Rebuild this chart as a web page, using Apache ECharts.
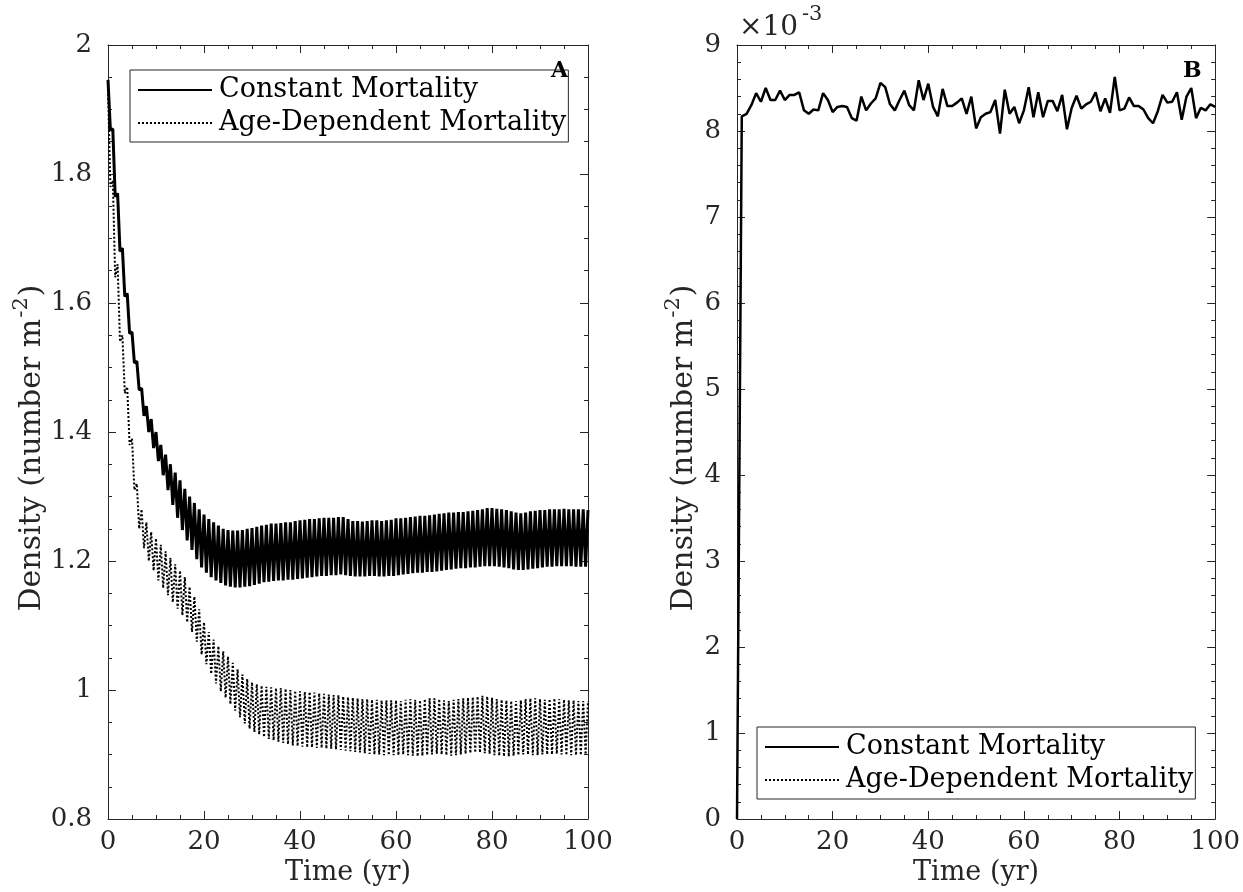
<!DOCTYPE html>
<html>
<head>
<meta charset="utf-8">
<script src="https://cdn.jsdelivr.net/npm/echarts@6/dist/echarts.min.js"></script>
<style>
  html, body { margin: 0; padding: 0; background: #fff; }
  #chart { width: 1243px; height: 892px; }
</style>
</head>
<body>
<div id="chart"></div>
<script>
// Panel A: yearly high (start of year) and low (mid-year) densities, number m^-2
const constPeak = [
  1.946, 1.870, 1.770, 1.685, 1.615, 1.555, 1.510, 1.468, 1.440, 1.420,
  1.400, 1.380, 1.365, 1.350, 1.337, 1.325, 1.312, 1.300, 1.290, 1.280,
  1.272, 1.265, 1.260, 1.255, 1.250, 1.248, 1.247, 1.247, 1.248, 1.250,
  1.251, 1.253, 1.255, 1.256, 1.258, 1.258, 1.259, 1.260, 1.260, 1.262,
  1.263, 1.264, 1.265, 1.265, 1.266, 1.267, 1.267, 1.267, 1.268, 1.268,
  1.265, 1.262, 1.262, 1.261, 1.262, 1.263, 1.263, 1.262, 1.263, 1.264,
  1.266, 1.266, 1.267, 1.268, 1.269, 1.270, 1.270, 1.271, 1.272, 1.273,
  1.274, 1.275, 1.275, 1.276, 1.276, 1.277, 1.278, 1.279, 1.280, 1.282,
  1.282, 1.281, 1.280, 1.279, 1.277, 1.275, 1.274, 1.275, 1.277, 1.278,
  1.279, 1.279, 1.280, 1.280, 1.280, 1.281, 1.280, 1.280, 1.280, 1.280,
  1.279
];
const constTrough = [
  1.868, 1.765, 1.680, 1.610, 1.553, 1.507, 1.465, 1.425, 1.400, 1.375,
  1.355, 1.333, 1.310, 1.287, 1.267, 1.248, 1.232, 1.217, 1.203, 1.190,
  1.182, 1.175, 1.170, 1.166, 1.162, 1.160, 1.159, 1.159, 1.160, 1.161,
  1.163, 1.165, 1.167, 1.168, 1.169, 1.170, 1.170, 1.171, 1.171, 1.172,
  1.173, 1.174, 1.175, 1.176, 1.177, 1.177, 1.178, 1.178, 1.179, 1.178,
  1.177, 1.176, 1.176, 1.176, 1.177, 1.177, 1.176, 1.176, 1.177, 1.177,
  1.178, 1.179, 1.180, 1.181, 1.182, 1.182, 1.183, 1.183, 1.184, 1.185,
  1.186, 1.187, 1.188, 1.189, 1.189, 1.190, 1.190, 1.191, 1.192, 1.192,
  1.192, 1.191, 1.190, 1.189, 1.187, 1.186, 1.186, 1.187, 1.188, 1.189,
  1.190, 1.191, 1.191, 1.192, 1.192, 1.192, 1.192, 1.191, 1.191, 1.191
];
const agePeak = [
  1.930, 1.790, 1.660, 1.550, 1.470, 1.390, 1.320, 1.280, 1.260, 1.245,
  1.235, 1.225, 1.215, 1.205, 1.195, 1.185, 1.175, 1.160, 1.145, 1.125,
  1.105, 1.090, 1.078, 1.068, 1.060, 1.052, 1.042, 1.032, 1.024, 1.017,
  1.012, 1.009, 1.007, 1.005, 1.004, 1.003, 1.003, 1.002, 1.000, 0.999,
  0.998, 0.997, 0.997, 0.996, 0.995, 0.994, 0.993, 0.992, 0.992, 0.990,
  0.989, 0.988, 0.987, 0.986, 0.986, 0.985, 0.985, 0.984, 0.984, 0.984,
  0.984, 0.983, 0.985, 0.986, 0.985, 0.984, 0.986, 0.987, 0.987, 0.986,
  0.984, 0.983, 0.985, 0.986, 0.987, 0.988, 0.989, 0.990, 0.991, 0.990,
  0.988, 0.986, 0.985, 0.984, 0.983, 0.983, 0.984, 0.986, 0.987, 0.987,
  0.986, 0.985, 0.986, 0.987, 0.986, 0.985, 0.984, 0.984, 0.983, 0.983,
  0.983
];
const ageTrough = [
  1.780, 1.640, 1.540, 1.460, 1.380, 1.310, 1.250, 1.220, 1.200, 1.185,
  1.170, 1.158, 1.147, 1.136, 1.126, 1.116, 1.105, 1.090, 1.075, 1.055,
  1.040, 1.025, 1.010, 0.998, 0.988, 0.978, 0.968, 0.958, 0.948, 0.940,
  0.935, 0.931, 0.927, 0.924, 0.922, 0.920, 0.918, 0.916, 0.914, 0.913,
  0.912, 0.911, 0.911, 0.910, 0.910, 0.909, 0.909, 0.908, 0.907, 0.906,
  0.905, 0.904, 0.903, 0.902, 0.901, 0.900, 0.900, 0.899, 0.899, 0.899,
  0.899, 0.900, 0.899, 0.898, 0.897, 0.898, 0.899, 0.900, 0.901, 0.900,
  0.899, 0.898, 0.899, 0.900, 0.901, 0.902, 0.903, 0.903, 0.902, 0.901,
  0.899, 0.898, 0.897, 0.897, 0.898, 0.899, 0.900, 0.900, 0.899, 0.899,
  0.900, 0.900, 0.900, 0.901, 0.900, 0.899, 0.899, 0.899, 0.899, 0.900
];

// Panel B: yearly density, in units of 10^-3 number m^-2
const constB = [
  0.00, 8.17, 8.20, 8.30, 8.44, 8.34, 8.50, 8.36, 8.36, 8.47,
  8.36, 8.42, 8.42, 8.45, 8.24, 8.20, 8.25, 8.24, 8.44, 8.36,
  8.22, 8.28, 8.29, 8.28, 8.15, 8.12, 8.40, 8.24, 8.32, 8.38,
  8.56, 8.51, 8.31, 8.24, 8.36, 8.47, 8.30, 8.24, 8.59, 8.36,
  8.55, 8.28, 8.17, 8.49, 8.29, 8.29, 8.33, 8.38, 8.20, 8.40,
  8.03, 8.16, 8.20, 8.22, 8.36, 7.97, 8.48, 8.20, 8.28, 8.09,
  8.24, 8.51, 8.16, 8.45, 8.16, 8.35, 8.35, 8.23, 8.42, 8.02,
  8.27, 8.41, 8.26, 8.31, 8.34, 8.45, 8.23, 8.38, 8.21, 8.63,
  8.24, 8.26, 8.39, 8.29, 8.29, 8.25, 8.15, 8.09, 8.23, 8.42,
  8.33, 8.34, 8.45, 8.13, 8.40, 8.50, 8.15, 8.27, 8.24, 8.31,
  8.28
];

const xTicks = { min: 0, max: 100, interval: 20 };
const yTicksA = { min: 0.8, max: 2, interval: 0.2 };
const yTicksB = { min: 0, max: 9, interval: 1 };

const NAME_CONST = 'Constant Mortality';
const NAME_AGE = 'Age-Dependent Mortality';

// Seasonal series: high at the start of each year, low half a year later
function seasonal(peaks, troughs) {
  const out = [];
  for (let i = 0; i < peaks.length; i++) {
    out.push([i, peaks[i]]);
    if (i < troughs.length) out.push([i + 0.5, troughs[i]]);
  }
  return out;
}
const yearly = vals => vals.map((v, i) => [i, v]);

const INK = '#262626';
const FONT = 'DejaVu Serif';

const grids = [
  { left: 108, top: 45, width: 480, height: 774 },
  { left: 737, top: 45, width: 481, height: 774 }
];

function xAxisFor(gridIndex, top) {
  return {
    type: 'value', gridIndex, position: top ? 'top' : 'bottom',
    min: xTicks.min, max: xTicks.max, interval: xTicks.interval,
    axisLine: { show: true, onZero: false, lineStyle: { color: INK, width: 1 } },
    axisTick: { show: true, inside: true, length: 8, lineStyle: { color: INK } },
    minorTick: { show: true, splitNumber: 4, length: 4, lineStyle: { color: INK } },
    splitLine: { show: false },
    axisLabel: top ? { show: false } : {
      show: true, color: INK, fontFamily: FONT, fontSize: 26, margin: 10
    },
    name: top ? '' : 'Time (yr)',
    nameLocation: 'middle', nameGap: 40,
    nameTextStyle: { color: INK, fontFamily: FONT, fontSize: 27 }
  };
}

function yAxisFor(gridIndex, ticks, right, gap, minorSplit) {
  return {
    type: 'value', gridIndex, position: right ? 'right' : 'left',
    min: ticks.min, max: ticks.max, interval: ticks.interval,
    axisLine: { show: true, onZero: false, lineStyle: { color: INK, width: 1 } },
    axisTick: { show: true, inside: true, length: 8, lineStyle: { color: INK } },
    minorTick: { show: true, splitNumber: minorSplit, length: 4, lineStyle: { color: INK } },
    splitLine: { show: false },
    axisLabel: right ? { show: false } : {
      show: true, color: INK, fontFamily: FONT, fontSize: 26, margin: 16
    },
    name: right ? '' : '{n|Density (number m}{s|-2}{n|)}',
    nameLocation: 'middle', nameGap: gap,
    nameTextStyle: {
      color: INK, fontFamily: FONT, fontSize: 30,
      padding: [0, 32, 0, 0],
      rich: {
        n: { color: INK, fontFamily: FONT, fontSize: 30 },
        s: { color: INK, fontFamily: FONT, fontSize: 21, padding: [0, 1, 21, 1] }
      }
    }
  };
}

function legendFor(left, top) {
  return {
    show: true, orient: 'vertical', left, top,
    data: [NAME_CONST, NAME_AGE],
    itemWidth: 74, itemHeight: 14, itemGap: 3,
    padding: [5, 2, 4, 7],
    backgroundColor: '#fff',
    borderColor: INK, borderWidth: 1, borderRadius: 0,
    selectedMode: false,
    itemStyle: { opacity: 0 },
    lineStyle: { width: 2 },
    textStyle: { color: '#000', fontFamily: FONT, fontSize: 27, lineHeight: 30, padding: [0, 0, 0, 2] }
  };
}

const solidA = { color: '#000', width: 3, type: 'solid' };
const solidB = { color: '#000', width: 2.5, type: 'solid' };
const dotted = { color: '#000', width: 2, type: [2, 2] };

const option = {
  animation: false,
  backgroundColor: '#fff',
  grid: grids,
  xAxis: [xAxisFor(0, false), xAxisFor(0, true), xAxisFor(1, false), xAxisFor(1, true)],
  yAxis: [
    yAxisFor(0, yTicksA, false, 53, 4), yAxisFor(0, yTicksA, true, 0, 4),
    yAxisFor(1, yTicksB, false, 32, 5), yAxisFor(1, yTicksB, true, 0, 5)
  ],
  legend: [legendFor(130, 70), legendFor(757, 727)],
  series: [
    {
      name: NAME_CONST, type: 'line', xAxisIndex: 0, yAxisIndex: 0,
      data: seasonal(constPeak, constTrough), symbol: 'none', lineStyle: solidA,
      itemStyle: { color: '#000' }, z: 3
    },
    {
      name: NAME_AGE, type: 'line', xAxisIndex: 0, yAxisIndex: 0,
      data: seasonal(agePeak, ageTrough), symbol: 'none', lineStyle: dotted,
      itemStyle: { color: '#000' }, z: 2
    },
    {
      name: NAME_CONST, type: 'line', xAxisIndex: 2, yAxisIndex: 2,
      data: yearly(constB), symbol: 'none', lineStyle: solidB,
      itemStyle: { color: '#000' }, z: 3
    },
    {
      name: NAME_AGE, type: 'line', xAxisIndex: 2, yAxisIndex: 2,
      data: [], symbol: 'none', lineStyle: dotted,
      itemStyle: { color: '#000' }, z: 2
    }
  ],
  graphic: [
    { type: 'text', left: 551, top: 60, z: 100,
      style: { text: 'A', fill: '#000', font: 'bold 22px "DejaVu Serif"' } },
    { type: 'text', left: 1183, top: 60, z: 100,
      style: { text: 'B', fill: '#000', font: 'bold 22px "DejaVu Serif"' } },
    { type: 'text', left: 739, top: 14, z: 100,
      style: { text: '×10', fill: INK, font: '28px "DejaVu Serif"' } },
    { type: 'text', left: 802, top: 4, z: 100,
      style: { text: '-3', fill: INK, font: '21px "DejaVu Serif"' } }
  ]
};

const chart = echarts.init(document.getElementById('chart'), null, { renderer: 'canvas' });
chart.setOption(option);
</script>
</body>
</html>
